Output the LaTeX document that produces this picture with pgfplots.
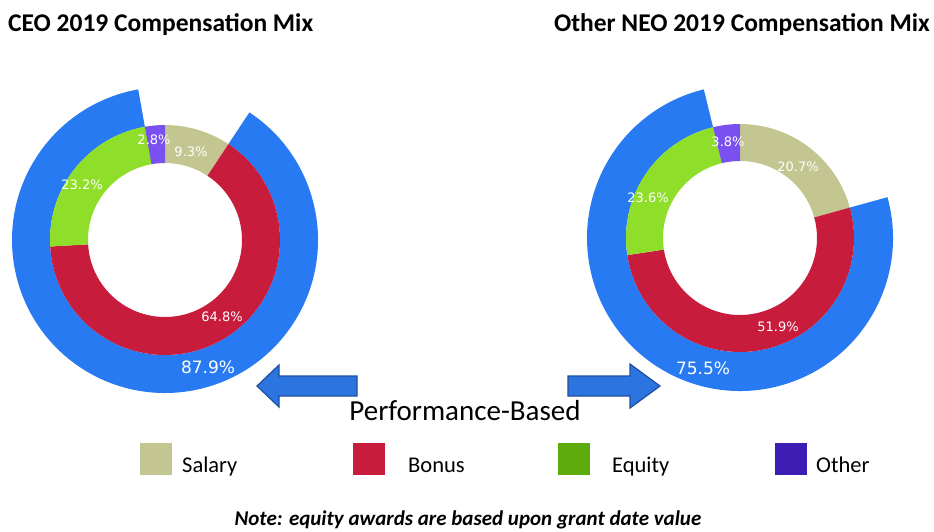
\documentclass[border=0pt]{standalone}
\usepackage{pgfplots}
\pgfplotsset{compat=1.18}
\usetikzlibrary{calc}
\usepackage{fontspec}
\setmainfont{Carlito}
\newfontfamily\dv{DejaVu Sans}
\definecolor{salary}{RGB}{196,198,145}
\definecolor{bonus}{RGB}{200,28,60}
\definecolor{equity}{RGB}{143,222,42}
\definecolor{other}{RGB}{122,80,240}
\definecolor{equityL}{RGB}{92,170,12}
\definecolor{otherL}{RGB}{60,30,180}
\definecolor{perf}{RGB}{40,122,242}
\definecolor{arrowfill}{RGB}{44,116,224}
\definecolor{arrowline}{RGB}{31,78,158}
% #1 cx, #2 cy, #3 start (%), #4 value (%), #5 inner r, #6 outer r, #7 colour
\newcommand\ring[7]{%
  \fill[#7] (axis cs:#1,#2) ++({90-3.6*(#3)}:#6)
    arc[start angle={90-3.6*(#3)}, end angle={90-3.6*(#3+#4)}, radius=#6]
    -- ($(axis cs:#1,#2)+({90-3.6*(#3+#4)}:#5)$)
    arc[start angle={90-3.6*(#3+#4)}, end angle={90-3.6*(#3)}, radius=#5]
    -- cycle;}
\begin{document}
\begin{tikzpicture}
\begin{axis}[name=ax, x=1pt, y=1pt, xmin=0, xmax=934, ymin=0, ymax=531,
  y dir=reverse, hide axis, clip=false, scale only axis]
% CEO: Salary 9.3, Bonus 64.8, Equity 23.2, Other 2.8 ; performance-based 87.9
\ring{165}{240}{9.3}{87.9}{115pt}{153pt}{perf}
\ring{165}{240}{0}{9.3}{77pt}{115pt}{salary}
\ring{165}{240}{9.3}{64.8}{77pt}{115pt}{bonus}
\ring{165}{240}{74.1}{23.2}{77pt}{115pt}{equity}
\ring{165}{240}{97.2}{2.8}{77pt}{115pt}{other}
% Other NEO: Salary 20.7, Bonus 51.9, Equity 23.6, Other 3.8 ; performance-based 75.5
\ring{740}{238}{20.7}{75.5}{114pt}{153pt}{perf}
\ring{740}{238}{0}{20.7}{77pt}{114pt}{salary}
\ring{740}{238}{20.7}{51.9}{77pt}{114pt}{bonus}
\ring{740}{238}{72.6}{23.6}{77pt}{114pt}{equity}
\ring{740}{238}{96.2}{3.8}{77pt}{114pt}{other}
% slice labels
\begin{scope}[every node/.style={text=white, font=\dv\fontsize{13}{15}\selectfont, inner sep=0pt}]
\node at (axis cs:154,140) {2.8\%};
\node at (axis cs:191,152) {9.3\%};
\node at (axis cs:82,185) {23.2\%};
\node at (axis cs:222,317) {64.8\%};
\node at (axis cs:728,142) {3.8\%};
\node at (axis cs:798,167) {20.7\%};
\node at (axis cs:648,198) {23.6\%};
\node at (axis cs:778,327) {51.9\%};
\end{scope}
\node[text=white, font=\dv\fontsize{17}{20}\selectfont, inner sep=0pt] at (axis cs:208,367) {87.9\%};
\node[text=white, font=\dv\fontsize{17}{20}\selectfont, inner sep=0pt] at (axis cs:703,368) {75.5\%};
% titles
\node[anchor=base west, inner sep=0pt, font=\bfseries\fontsize{25.5}{30}\selectfont] at (axis cs:8,31) {CEO 2019 Compensation Mix};
\node[anchor=base east, inner sep=0pt, font=\bfseries\fontsize{25.5}{30}\selectfont] at (axis cs:930,31) {Other NEO 2019 Compensation Mix};
% arrows
\filldraw[fill=arrowfill, draw=arrowline, line width=1.2pt]
  (axis cs:257,386) -- (axis cs:279,365) -- (axis cs:279,376) -- (axis cs:357,376)
  -- (axis cs:357,396) -- (axis cs:279,396) -- (axis cs:279,407) -- cycle;
\filldraw[fill=arrowfill, draw=arrowline, line width=1.2pt]
  (axis cs:660,386) -- (axis cs:630,364) -- (axis cs:630,376) -- (axis cs:568,376)
  -- (axis cs:568,396) -- (axis cs:630,396) -- (axis cs:630,408) -- cycle;
\node[anchor=base, inner sep=0pt, font=\fontsize{29}{34}\selectfont] at (axis cs:465,420) {Performance-Based};
% legend
\fill[salary] (axis cs:140,443) rectangle (axis cs:172,475);
\fill[bonus] (axis cs:353,443) rectangle (axis cs:385,475);
\fill[equityL] (axis cs:558,443) rectangle (axis cs:590,475);
\fill[otherL] (axis cs:775,443) rectangle (axis cs:807,475);
\begin{scope}[every node/.style={anchor=base west, inner sep=0pt, font=\fontsize{22.5}{27}\selectfont}]
\node at (axis cs:182,472) {Salary};
\node at (axis cs:408,472) {Bonus};
\node at (axis cs:612,472) {Equity};
\node at (axis cs:816,472) {Other};
\end{scope}
\node[anchor=base, inner sep=0pt, font=\bfseries\itshape\fontsize{21}{25}\selectfont] at (axis cs:468,525) {Note: equity awards are based upon grant date value};
\end{axis}
\pgfresetboundingbox
\path (ax.south west) rectangle (ax.north east);
\end{tikzpicture}
\end{document}
